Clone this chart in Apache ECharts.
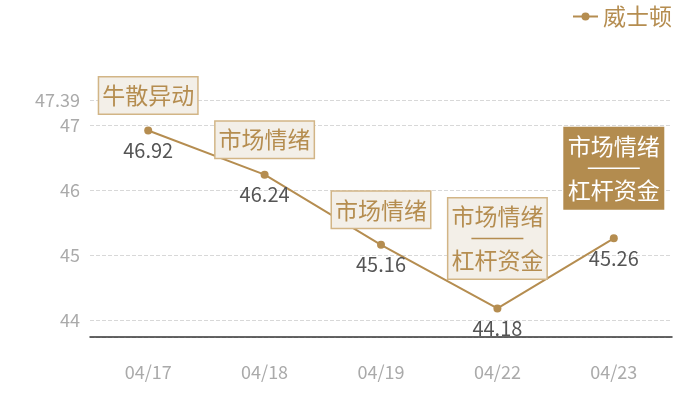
<!DOCTYPE html>
<html>
<head>
<meta charset="utf-8">
<script src="https://cdn.jsdelivr.net/npm/echarts@6/dist/echarts.min.js"></script>
<style>html,body{margin:0;padding:0;background:#fff}#c{width:700px;height:400px}</style>
</head>
<body>
<div id="c"></div>
<script>
var categories = ['04/17', '04/18', '04/19', '04/22', '04/23'];
var seriesName = '威士顿';
var values = [46.92, 46.24, 45.16, 44.18, 45.26];
var noteTop = ['牛散异动', '市场情绪', '市场情绪', '市场情绪', '市场情绪'];
var noteBottom = ['', '', '', '杠杆资金', '杠杆资金'];
var noteHighlight = [false, false, false, false, true];
var yMin = 43.74;
var yMax = 47.39;

var gold = '#b58d50';
var font = '"Noto Sans CJK SC", "Noto Sans", sans-serif';

function noteText(i) {
  var k = noteHighlight[i] ? 'h' : 'a';
  var s = '{' + k + '|' + noteTop[i] + '}';
  if (noteBottom[i]) {
    s += '\n{' + k + 's| }\n{' + k + '|' + noteBottom[i] + '}';
  }
  return s;
}

var noteData = values.map(function (v, i) {
  var hl = noteHighlight[i];
  return {
    value: v,
    label: {
      distance: noteBottom[i] ? 30 : 17,
      backgroundColor: hl ? '#b38c4f' : '#f3efe8',
      borderColor: hl ? '#b38c4f' : '#d2b586',
      borderWidth: 1.5
    }
  };
});

var chart = echarts.init(document.getElementById('c'));
chart.setOption({
  animation: false,
  textStyle: { fontFamily: font },
  legend: {
    data: [seriesName],
    right: 23,
    top: 0,
    itemWidth: 25,
    itemHeight: 10,
    itemGap: 6,
    textStyle: { color: gold, fontSize: 23, fontFamily: font }
  },
  grid: { left: 90, right: 28, top: 100, bottom: 63, containLabel: false },
  xAxis: {
    type: 'category',
    data: categories,
    axisLine: { lineStyle: { color: '#333', width: 1.5 } },
    axisTick: { show: false },
    axisLabel: { color: '#aaa', fontSize: 18, margin: 26, fontFamily: font }
  },
  yAxis: {
    type: 'value',
    min: yMin,
    max: yMax,
    axisLine: { show: false },
    axisTick: { show: false },
    axisLabel: { color: '#aaa', fontSize: 18, showMinLabel: false, margin: 10, fontFamily: font },
    splitLine: { lineStyle: { color: '#d8d8d8', type: 'dashed' } }
  },
  series: [
    {
      name: seriesName,
      type: 'line',
      data: values,
      symbol: 'circle',
      symbolSize: 8,
      lineStyle: { color: gold, width: 2 },
      itemStyle: { color: gold },
      label: {
        show: true,
        position: 'bottom',
        distance: 6,
        color: '#555',
        fontSize: 20,
        fontFamily: font
      },
      z: 3
    },
    {
      name: 'notes',
      type: 'scatter',
      data: noteData,
      symbolSize: 0,
      itemStyle: { color: 'rgba(0,0,0,0)', opacity: 1 },
      silent: true,
      label: {
        show: true,
        position: 'top',
        padding: [4, 3],
        formatter: function (p) { return noteText(p.dataIndex); },
        rich: {
          a: { color: gold, fontSize: 23, lineHeight: 28, fontFamily: font },
          as: { width: 52, height: 1.5, lineHeight: 16, backgroundColor: gold, fontSize: 2 },
          h: { color: '#fff', fontSize: 23, lineHeight: 28, fontFamily: font },
          hs: { width: 52, height: 1.5, lineHeight: 16, backgroundColor: '#fff', fontSize: 2 }
        }
      },
      z: 4
    }
  ]
});
</script>
</body>
</html>
